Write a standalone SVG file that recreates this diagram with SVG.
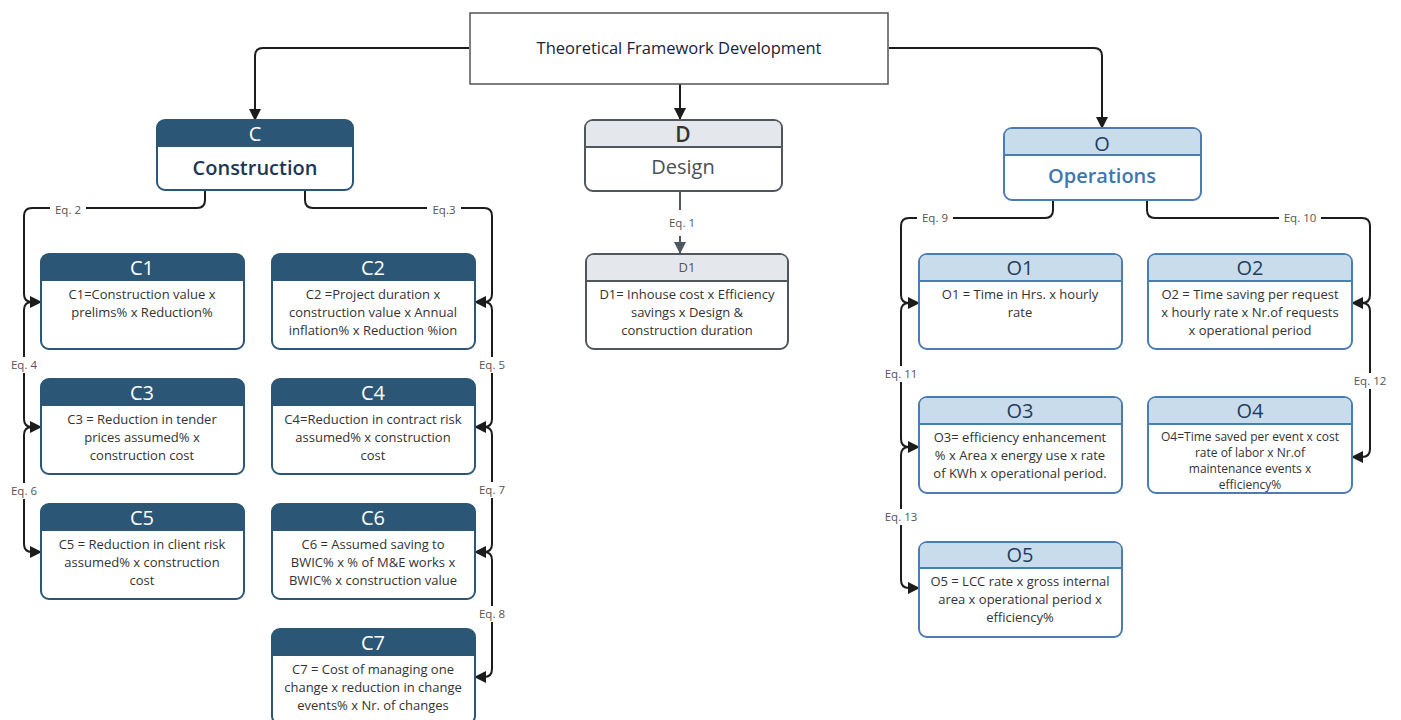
<svg xmlns="http://www.w3.org/2000/svg" width="1401" height="720" viewBox="0 0 1401 720">
<style>
text{font-family:"Open Sans","Noto Sans","Liberation Sans",sans-serif}
.body{font-size:13px;fill:#333;text-anchor:middle}
.small{font-size:12px;fill:#333;text-anchor:middle}
.hdrC{font-size:20px;fill:#fff;text-anchor:middle}
.hdrO{font-size:20px;fill:#1f3d62;text-anchor:middle}
.cbox{fill:#fff;stroke:#2b5676;stroke-width:2}
.chdr{fill:#2b5676}
.obox{fill:#fff;stroke:#4a7db3;stroke-width:2}
.ohdr{fill:#c9dcec}
.dbox{fill:#fff;stroke:#50565e;stroke-width:2}
.dhdr{fill:#e4e7eb}
.conn{fill:none;stroke:#1c1c1c;stroke-width:2}
.eq{font-size:11.5px;fill:#555;text-anchor:middle}
.lbg{fill:#fff}
</style>
<defs>
<marker id="arr" markerUnits="userSpaceOnUse" markerWidth="12" markerHeight="12" viewBox="0 0 12 12" refX="11" refY="6" orient="auto">
<path d="M0,0 L12,6 L0,12 Z" fill="#1c1c1c"/>
</marker>
<marker id="arrg" markerUnits="userSpaceOnUse" markerWidth="12" markerHeight="12" viewBox="0 0 12 12" refX="11" refY="6" orient="auto">
<path d="M0,0 L12,6 L0,12 Z" fill="#50565e"/>
</marker>
</defs>

<g id="connectors">
<path class="conn" d="M469,48 H263 Q255,48 255,56 V120" marker-end="url(#arr)"/>
<path class="conn" d="M889,48 H1094 Q1102,48 1102,56 V128" marker-end="url(#arr)"/>
<path class="conn" d="M680,84 V119" marker-end="url(#arr)"/>
<!-- D -->
<path d="M680,191 V253" fill="none" stroke="#50565e" stroke-width="2" marker-end="url(#arrg)"/>
<!-- C left -->
<path class="conn" d="M205,191 V200 Q205,208 197,208 H32 Q24,208 24,216 V294 Q24,302 32,302 H41" marker-end="url(#arr)"/>
<path class="conn" d="M41,302 H32 Q24,302 24,310 V419 Q24,427 32,427 H41" marker-end="url(#arr)"/>
<path class="conn" d="M41,427 H32 Q24,427 24,435 V544 Q24,552 32,552 H41" marker-end="url(#arr)"/>
<!-- C right -->
<path class="conn" d="M305,191 V200 Q305,208 313,208 H484 Q492,208 492,216 V294 Q492,302 484,302 H475" marker-end="url(#arr)"/>
<path class="conn" d="M475,302 H484 Q492,302 492,310 V419 Q492,427 484,427 H475" marker-end="url(#arr)"/>
<path class="conn" d="M475,427 H484 Q492,427 492,435 V544 Q492,552 484,552 H475" marker-end="url(#arr)"/>
<path class="conn" d="M475,552 H484 Q492,552 492,560 V669 Q492,677 484,677 H475" marker-end="url(#arr)"/>
<!-- O left -->
<path class="conn" d="M1053,200 V210 Q1053,218 1045,218 H909 Q901,218 901,226 V295 Q901,303 909,303 H919" marker-end="url(#arr)"/>
<path class="conn" d="M919,303 H909 Q901,303 901,311 V439 Q901,447 909,447 H919" marker-end="url(#arr)"/>
<path class="conn" d="M919,447 H909 Q901,447 901,455 V580 Q901,588 909,588 H919" marker-end="url(#arr)"/>
<!-- O right -->
<path class="conn" d="M1147,200 V210 Q1147,218 1155,218 H1362 Q1370,218 1370,226 V295 Q1370,303 1362,303 H1352" marker-end="url(#arr)"/>
<path class="conn" d="M1352,303 H1362 Q1370,303 1370,311 V449 Q1370,457 1362,457 H1352" marker-end="url(#arr)"/>
<!-- label backgrounds -->
<rect class="lbg" x="664" y="210" width="34" height="26"/>
<rect class="lbg" x="50" y="202" width="36" height="15"/>
<rect class="lbg" x="427" y="202" width="34" height="15"/>
<rect class="lbg" x="6" y="357" width="36" height="16"/>
<rect class="lbg" x="6" y="483" width="36" height="16"/>
<rect class="lbg" x="474" y="357" width="36" height="16"/>
<rect class="lbg" x="474" y="482" width="36" height="16"/>
<rect class="lbg" x="474" y="606" width="36" height="16"/>
<rect class="lbg" x="917" y="210" width="36" height="16"/>
<rect class="lbg" x="1279" y="210" width="42" height="16"/>
<rect class="lbg" x="880" y="366" width="42" height="16"/>
<rect class="lbg" x="1349" y="373" width="42" height="16"/>
<rect class="lbg" x="880" y="509" width="42" height="16"/>
<!-- labels -->
<text class="eq" x="682" y="227">Eq. 1</text>
<text class="eq" x="68" y="214">Eq. 2</text>
<text class="eq" x="444" y="214">Eq.3</text>
<text class="eq" x="24" y="369">Eq. 4</text>
<text class="eq" x="24" y="495">Eq. 6</text>
<text class="eq" x="492" y="369">Eq. 5</text>
<text class="eq" x="492" y="494">Eq. 7</text>
<text class="eq" x="492" y="618">Eq. 8</text>
<text class="eq" x="935" y="222">Eq. 9</text>
<text class="eq" x="1300" y="222">Eq. 10</text>
<text class="eq" x="901" y="378">Eq. 11</text>
<text class="eq" x="1370" y="385">Eq. 12</text>
<text class="eq" x="901" y="521">Eq. 13</text>
</g>

<g id="top">
<rect x="470" y="13" width="418" height="71" fill="#fff" stroke="#555" stroke-width="1.5"/>
<text x="679" y="54" font-size="16.5" font-weight="500" fill="#1b2238" text-anchor="middle">Theoretical Framework Development</text>
</g>

<g id="C">
<rect class="cbox" x="157" y="120" width="196" height="70" rx="8"/>
<path class="chdr" d="M157,147 V128 Q157,120 165,120 H345 Q353,120 353,128 V147 Z"/>
<text class="hdrC" x="255" y="141">C</text>
<text x="255" y="175" font-size="20" font-weight="600" fill="#1d3656" text-anchor="middle">Construction</text>
</g>

<g id="D">
<rect class="dbox" x="585" y="120" width="197" height="71" rx="8"/>
<path class="dhdr" d="M586,147 V128 Q586,121 593,121 H774 Q781,121 781,128 V147 Z"/>
<line x1="585" y1="147" x2="782" y2="147" stroke="#50565e" stroke-width="2"/>
<text x="683" y="142" font-size="21" font-weight="600" fill="#333" text-anchor="middle">D</text>
<text x="683" y="174" font-size="20" font-weight="500" fill="#4a4f57" text-anchor="middle">Design</text>
</g>

<g id="O">
<rect class="obox" x="1004" y="128" width="197" height="72" rx="8"/>
<path class="ohdr" d="M1005,155 V136 Q1005,129 1012,129 H1193 Q1200,129 1200,136 V155 Z"/>
<line x1="1004" y1="155" x2="1201" y2="155" stroke="#4a7db3" stroke-width="2"/>
<text class="hdrO" x="1102" y="151">O</text>
<text x="1102" y="183" font-size="20" font-weight="600" fill="#3d77b0" text-anchor="middle">Operations</text>
</g>

<g id="D1">
<rect class="dbox" x="586" y="254" width="202" height="95" rx="8"/>
<path class="dhdr" d="M587,281 V262 Q587,255 594,255 H780 Q787,255 787,262 V281 Z"/>
<line x1="586" y1="281" x2="788" y2="281" stroke="#50565e" stroke-width="2"/>
<text x="687" y="272" font-size="13" fill="#555" text-anchor="middle">D1</text>
<text class="body" x="687" y="299">D1= Inhouse cost x Efficiency</text>
<text class="body" x="687" y="317">savings x Design &amp;</text>
<text class="body" x="687" y="335">construction duration</text>
</g>

<g id="C1">
<rect class="cbox" x="41" y="254" width="203" height="95" rx="8"/>
<path class="chdr" d="M41,281 V262 Q41,254 49,254 H236 Q244,254 244,262 V281 Z"/>
<text class="hdrC" x="142" y="275">C1</text>
<text class="body" x="142" y="299">C1=Construction value x</text>
<text class="body" x="142" y="317">prelims% x Reduction%</text>
</g>

<g id="C2">
<rect class="cbox" x="272" y="254" width="203" height="95" rx="8"/>
<path class="chdr" d="M272,281 V262 Q272,254 280,254 H467 Q475,254 475,262 V281 Z"/>
<text class="hdrC" x="373" y="275">C2</text>
<text class="body" x="373" y="299">C2 =Project duration x</text>
<text class="body" x="373" y="317">construction value x Annual</text>
<text class="body" x="373" y="335">inflation% x Reduction %ion</text>
</g>

<g id="C3">
<rect class="cbox" x="41" y="379" width="203" height="95" rx="8"/>
<path class="chdr" d="M41,406 V387 Q41,379 49,379 H236 Q244,379 244,387 V406 Z"/>
<text class="hdrC" x="142" y="400">C3</text>
<text class="body" x="142" y="424">C3 = Reduction in tender</text>
<text class="body" x="142" y="442">prices assumed% x</text>
<text class="body" x="142" y="460">construction cost</text>
</g>

<g id="C4">
<rect class="cbox" x="272" y="379" width="203" height="95" rx="8"/>
<path class="chdr" d="M272,406 V387 Q272,379 280,379 H467 Q475,379 475,387 V406 Z"/>
<text class="hdrC" x="373" y="400">C4</text>
<text class="body" x="373" y="424">C4=Reduction in contract risk</text>
<text class="body" x="373" y="442">assumed% x construction</text>
<text class="body" x="373" y="460">cost</text>
</g>

<g id="C5">
<rect class="cbox" x="41" y="504" width="203" height="95" rx="8"/>
<path class="chdr" d="M41,531 V512 Q41,504 49,504 H236 Q244,504 244,512 V531 Z"/>
<text class="hdrC" x="142" y="525">C5</text>
<text class="body" x="142" y="549">C5 = Reduction in client risk</text>
<text class="body" x="142" y="567">assumed% x construction</text>
<text class="body" x="142" y="585">cost</text>
</g>

<g id="C6">
<rect class="cbox" x="272" y="504" width="203" height="95" rx="8"/>
<path class="chdr" d="M272,531 V512 Q272,504 280,504 H467 Q475,504 475,512 V531 Z"/>
<text class="hdrC" x="373" y="525">C6</text>
<text class="body" x="373" y="549">C6 = Assumed saving to</text>
<text class="body" x="373" y="567">BWIC% x % of M&amp;E works x</text>
<text class="body" x="373" y="585">BWIC% x construction value</text>
</g>

<g id="C7">
<rect class="cbox" x="272" y="629" width="203" height="95" rx="8"/>
<path class="chdr" d="M272,656 V637 Q272,629 280,629 H467 Q475,629 475,637 V656 Z"/>
<text class="hdrC" x="373" y="650">C7</text>
<text class="body" x="373" y="674">C7 = Cost of managing one</text>
<text class="body" x="373" y="692">change x reduction in change</text>
<text class="body" x="373" y="710">events% x Nr. of changes</text>
</g>

<g id="O1">
<rect class="obox" x="919" y="254" width="203" height="95" rx="8"/>
<path class="ohdr" d="M920,281 V262 Q920,255 927,255 H1114 Q1121,255 1121,262 V281 Z"/>
<line x1="919" y1="281" x2="1122" y2="281" stroke="#4a7db3" stroke-width="2"/>
<text class="hdrO" x="1020" y="275">O1</text>
<text class="body" x="1020" y="299">O1 = Time in Hrs. x hourly</text>
<text class="body" x="1020" y="317">rate</text>
</g>

<g id="O2">
<rect class="obox" x="1148" y="254" width="204" height="95" rx="8"/>
<path class="ohdr" d="M1149,281 V262 Q1149,255 1156,255 H1344 Q1351,255 1351,262 V281 Z"/>
<line x1="1148" y1="281" x2="1352" y2="281" stroke="#4a7db3" stroke-width="2"/>
<text class="hdrO" x="1250" y="275">O2</text>
<text class="body" x="1250" y="299">O2 = Time saving per request</text>
<text class="body" x="1250" y="317">x hourly rate x Nr.of requests</text>
<text class="body" x="1250" y="335">x operational period</text>
</g>

<g id="O3">
<rect class="obox" x="919" y="397" width="203" height="96" rx="8"/>
<path class="ohdr" d="M920,424 V405 Q920,398 927,398 H1114 Q1121,398 1121,405 V424 Z"/>
<line x1="919" y1="424" x2="1122" y2="424" stroke="#4a7db3" stroke-width="2"/>
<text class="hdrO" x="1020" y="418">O3</text>
<text class="body" x="1020" y="442">O3= efficiency enhancement</text>
<text class="body" x="1020" y="460">% x Area x energy use x rate</text>
<text class="body" x="1020" y="478">of KWh x operational period.</text>
</g>

<g id="O4">
<rect class="obox" x="1148" y="397" width="204" height="96" rx="8"/>
<path class="ohdr" d="M1149,424 V405 Q1149,398 1156,398 H1344 Q1351,398 1351,405 V424 Z"/>
<line x1="1148" y1="424" x2="1352" y2="424" stroke="#4a7db3" stroke-width="2"/>
<text class="hdrO" x="1250" y="418">O4</text>
<text class="small" x="1250" y="441">O4=Time saved per event x cost</text>
<text class="small" x="1250" y="457">rate of labor x Nr.of</text>
<text class="small" x="1250" y="473">maintenance events x</text>
<text class="small" x="1250" y="489">efficiency%</text>
</g>

<g id="O5">
<rect class="obox" x="919" y="542" width="203" height="95" rx="8"/>
<path class="ohdr" d="M920,568 V549 Q920,543 927,543 H1114 Q1121,543 1121,549 V568 Z"/>
<line x1="919" y1="568" x2="1122" y2="568" stroke="#4a7db3" stroke-width="2"/>
<text class="hdrO" x="1020" y="562">O5</text>
<text class="body" x="1020" y="586">O5 = LCC rate x gross internal</text>
<text class="body" x="1020" y="604">area x operational period x</text>
<text class="body" x="1020" y="622">efficiency%</text>
</g>
</svg>
